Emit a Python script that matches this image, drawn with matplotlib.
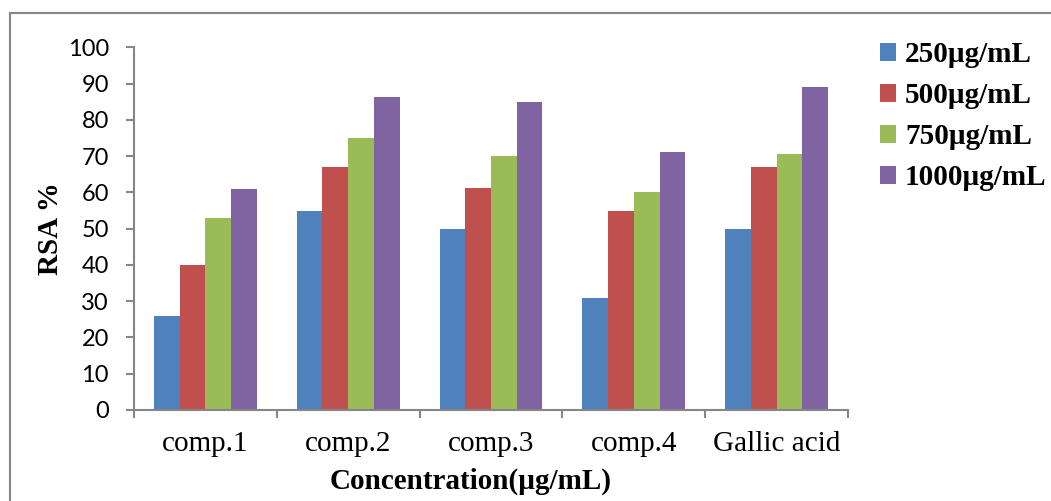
import matplotlib
matplotlib.use("Agg")
import matplotlib.pyplot as plt
from matplotlib.patches import Rectangle
from matplotlib.ticker import FixedLocator
import numpy as np

categories = ["comp.1", "comp.2", "comp.3", "comp.4", "Gallic acid"]
series_labels = ["250µg/mL", "500µg/mL", "750µg/mL", "1000µg/mL"]
v250 = [26, 55, 50, 31, 50]
v500 = [40, 67, 61.2, 55, 67.1]
v750 = [53, 75, 70, 60, 70.5]
v1000 = [61, 86.2, 85, 71, 89.1]
colors = ["#4F81BD", "#C0504D", "#9BBB59", "#8064A2"]
yticks = list(range(0, 101, 10))

W, H = 1051, 501
fig = plt.figure(figsize=(W / 100, H / 100), dpi=100)
ax = fig.add_axes([134 / W, 1 - 410 / H, (848 - 134) / W, (410 - 47.3) / H])

x = np.arange(len(categories))
bw = 0.18
all_vals = [v250, v500, v750, v1000]
for i, (vals, c, lab) in enumerate(zip(all_vals, colors, series_labels)):
    ax.bar(x + (i - 1.5) * bw, vals, width=bw, color=c, label=lab,
           edgecolor="none", linewidth=0, zorder=2)

ax.set_xlim(-0.5, len(categories) - 0.5)
ax.set_ylim(0, 100)
ax.set_yticks(yticks)
ax.set_yticklabels([str(t) for t in yticks], fontfamily="Lato", fontsize=17)

ax.set_xticks(x)
ax.set_xticklabels(categories, fontfamily="Liberation Serif", fontsize=21)
ax.xaxis.set_minor_locator(FixedLocator(np.arange(-0.5, len(categories), 1.0)))
ax.tick_params(axis="x", which="major", length=0, pad=15)
ax.tick_params(axis="x", which="minor", length=6, width=1.5, color="#868686", direction="out")
ax.tick_params(axis="y", length=6, width=1.5, color="#868686", direction="out", pad=12)

for s in ["top", "right"]:
    ax.spines[s].set_visible(False)
for s in ["left", "bottom"]:
    ax.spines[s].set_color("#868686")
    ax.spines[s].set_linewidth(1.5)

ax.set_ylabel("RSA %", fontfamily="Liberation Serif", fontweight="bold", fontsize=21, labelpad=3)
ax.set_xlabel("Concentration(µg/mL)", fontfamily="Liberation Serif", fontweight="bold", fontsize=21, labelpad=8)
ax.xaxis.label.set_x(0.472)

leg = fig.legend(loc="upper left", bbox_to_anchor=(854 / W, 1 - 15 / H),
                 frameon=False, prop={"family": "Liberation Serif", "weight": "bold", "size": 21},
                 handlelength=0.55, handleheight=0.55, handletextpad=0.3, labelspacing=0.48)

fig.patches.append(Rectangle((10 / W, -0.1), 1.2, 1.1 - 12.5 / H, transform=fig.transFigure,
                             fill=False, edgecolor="#868686", linewidth=1.5))

fig.savefig("out.png", dpi=100)
